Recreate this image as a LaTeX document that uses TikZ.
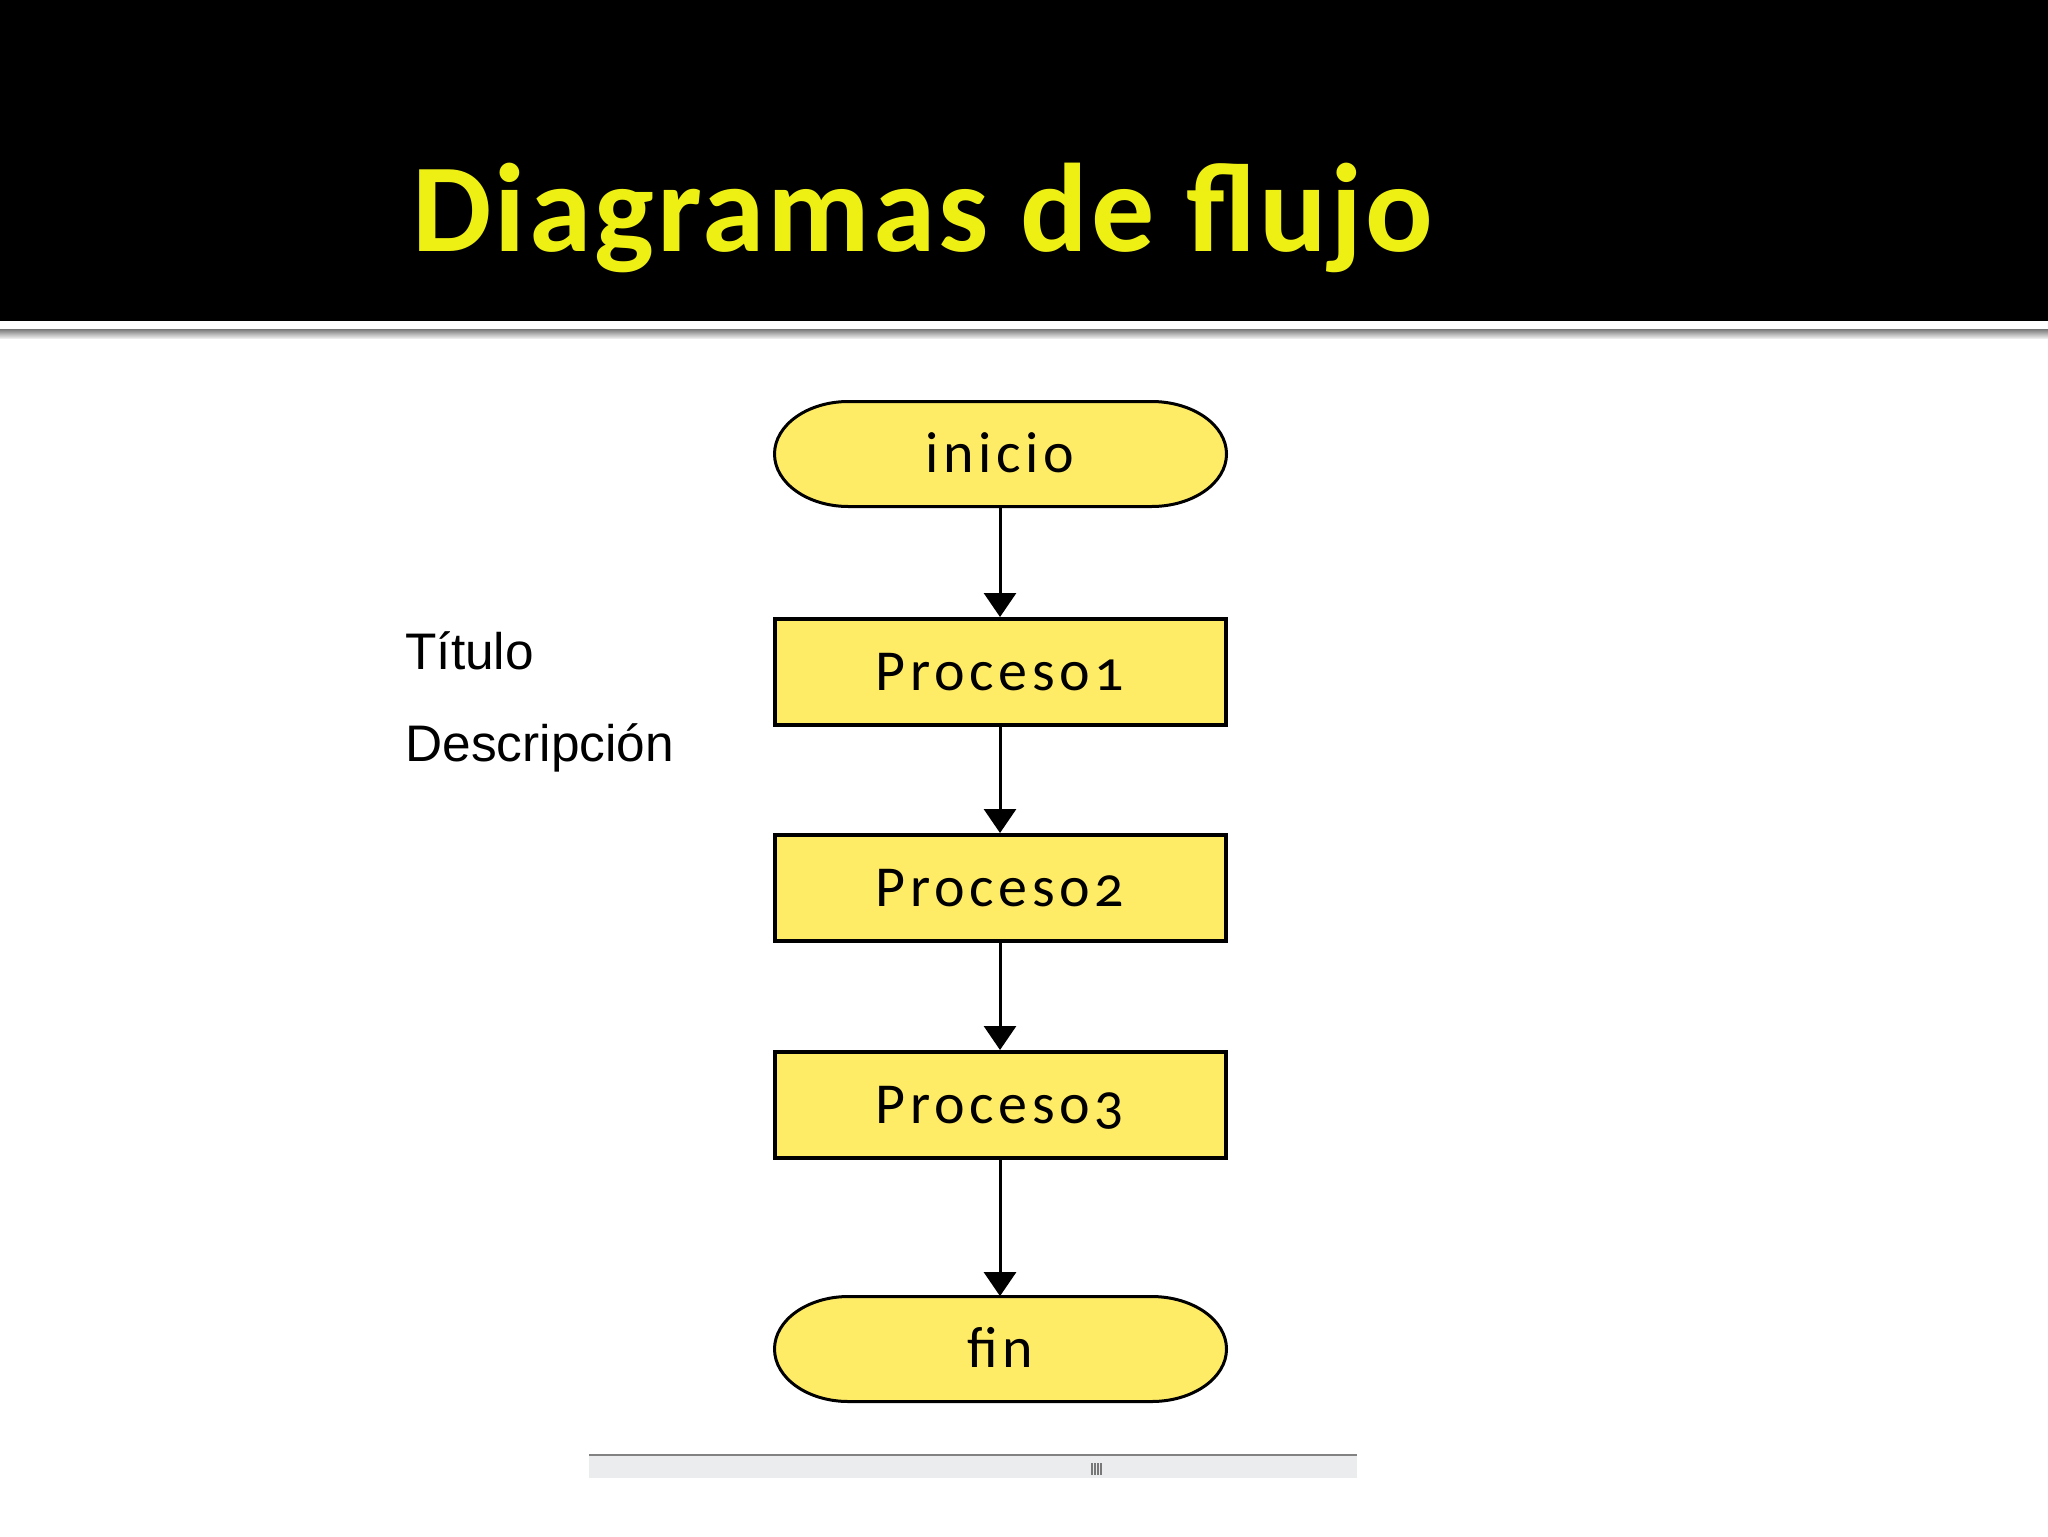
\documentclass[tikz,border=0pt]{standalone}
\usepackage{fontspec}
\usetikzlibrary{arrows.meta}
\setmainfont{Liberation Sans}
\newfontfamily\cabeceraFont{Carlito}[LetterSpace=2.5]
\newfontfamily\flujoFont{Carlito}[Numbers=OldStyle,LetterSpace=8]

\begin{document}
\begin{tikzpicture}[x=0.5pt,y=0.5pt,yscale=-1,
	caja/.style={draw, line width=2pt, fill={rgb, 255:red, 255; green, 236; blue, 102}, minimum width=225.5pt, minimum height=53pt, inner sep=0pt, font=\flujoFont\fontsize{29}{29}\selectfont, text height=18.5pt, text depth=0pt},
	terminal/.style={minimum width=226pt, minimum height=52.5pt, inner sep=0pt, font=\flujoFont\fontsize{29}{29}\selectfont, text height=18.5pt, text depth=0pt},
	bordeTerminal/.style={draw, line width=1.5pt, fill={rgb, 255:red, 255; green, 236; blue, 102}},
	flecha/.style={-{Triangle[length=12pt,width=16pt]}, line width=1.5pt}]
	\useasboundingbox (0,0) rectangle (2048,1536);
	\fill[white] (0,0) rectangle (2048,1536);

	% Header
	\fill[black] (0,0) rectangle (2048,321);
	\shade[top color={rgb, 255:red, 120; green, 120; blue, 120}, bottom color={rgb, 255:red, 235; green, 235; blue, 235}] (0,329) rectangle (2048,338);
	% Text Node
	\node[anchor=base west, inner sep=0pt, text={rgb, 255:red, 238; green, 240; blue, 20}, font=\cabeceraFont\bfseries\fontsize{63}{63}\selectfont] (titulo) at (412,251) {Diagramas de flujo};

	% Text Node
	\node[anchor=base west, inner sep=0pt, font=\fontsize{25.7}{26}\selectfont] (lblTitulo) at (405,669) {Título};
	% Text Node
	\node[anchor=base west, inner sep=0pt, font=\fontsize{25.7}{26}\selectfont] (lblDescripcion) at (405,761) {Descripción};

	% Terminal inicio
	\draw[bordeTerminal] (848.5,401.5) -- (1151.5,401.5) arc[start angle=-90, end angle=90, x radius=75, y radius=52.5] -- (848.5,506.5) arc[start angle=90, end angle=270, x radius=74, y radius=52.5] -- cycle;
	\node[terminal] (inicio) at (1000,454) {inicio};

	% Text Node
	\node[caja] (proceso1) at (1000,672) {Proceso1};
	% Text Node
	\node[caja] (proceso2) at (1000,888) {Proceso2};
	% Text Node
	\node[caja] (proceso3) at (1000,1105) {Proceso3};

	% Terminal fin
	\draw[bordeTerminal] (848.5,1296.5) -- (1151.5,1296.5) arc[start angle=-90, end angle=90, x radius=75, y radius=52.5] -- (848.5,1401.5) arc[start angle=90, end angle=270, x radius=74, y radius=52.5] -- cycle;
	\node[terminal] (fin) at (1000,1349) {fin};

	% Connection
	\draw[flecha] (inicio) -- (proceso1);
	% Connection
	\draw[flecha] (proceso1) -- (proceso2);
	% Connection
	\draw[flecha] (proceso2) -- (proceso3);
	% Connection
	\draw[flecha] (proceso3) -- (fin);

	% Scroll bar
	\fill[fill={rgb, 255:red, 234; green, 236; blue, 238}] (589,1456) rectangle (1357,1478);
	\draw[draw={rgb, 255:red, 130; green, 130; blue, 130}, line width=1.2pt] (589,1455) -- (1357,1455);
	\foreach \gx in {1092,1095,1098,1101}
		\draw[draw={rgb, 255:red, 120; green, 120; blue, 120}, line width=0.8pt] (\gx,1463) -- (\gx,1475);

	\end{tikzpicture}
\end{document}
